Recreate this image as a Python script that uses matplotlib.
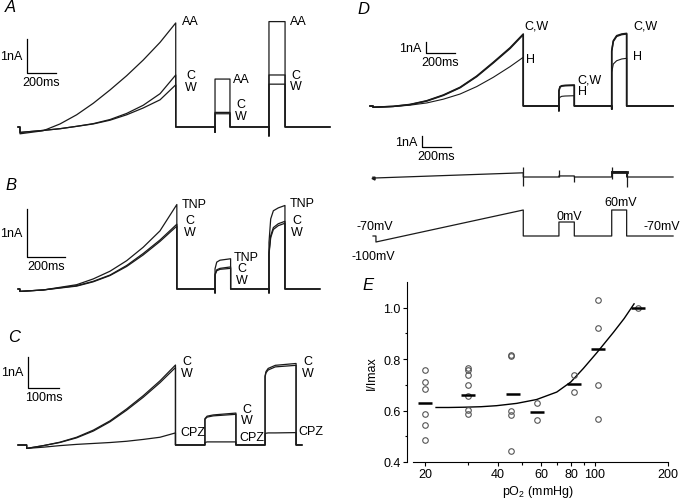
import matplotlib.pyplot as plt
from matplotlib.ticker import FixedLocator, NullFormatter

plt.rcParams['font.family'] = ['Liberation Sans', 'DejaVu Sans']
plt.rcParams['mathtext.fontset'] = 'custom'
plt.rcParams['mathtext.rm'] = 'Liberation Sans'
plt.rcParams['mathtext.it'] = 'Liberation Sans:italic'

# ---- panel A (ms, nA) ----
A_ramp_t = [0, 160, 276, 391, 506, 621, 736, 850, 966, 1074]
A_AA = [-0.20, -0.11, 0.09, 0.36, 0.70, 1.09, 1.51, 1.97, 2.49, 3.06]
A_C = [-0.16, -0.10, -0.05, 0.02, 0.10, 0.22, 0.40, 0.64, 0.98, 1.53]
A_W = [-0.16, -0.10, -0.05, 0.02, 0.09, 0.20, 0.36, 0.56, 0.80, 1.24]
A_steps_t = [[1345, 1448], [1717, 1828]]
A_steps_AA = [[1.41, 1.41], [3.10, 3.10]]
A_steps_C = [[0.43, 0.43], [1.53, 1.53]]
A_steps_W = [[0.39, 0.39], [1.26, 1.26]]
A_dips = [-0.15, -0.26]
A_end = 2138

# ---- panel B ----
B_ramp_t = [10, 133, 309, 396, 484, 572, 659, 747, 836]
B_TNP = [-0.05, -0.02, 0.09, 0.21, 0.37, 0.59, 0.87, 1.21, 1.76]
B_C = [-0.05, -0.02, 0.07, 0.16, 0.29, 0.49, 0.74, 1.02, 1.35]
B_W = [-0.05, -0.02, 0.06, 0.15, 0.28, 0.47, 0.71, 0.99, 1.31]
B_steps_t = [[1037, 1046, 1063, 1119], [1321, 1330, 1344, 1370, 1405]]
B_steps_TNP = [[0.42, 0.56, 0.60, 0.63], [0.97, 1.46, 1.63, 1.69, 1.74]]
B_steps_C = [[0.31, 0.40, 0.43, 0.46], [0.76, 1.11, 1.28, 1.36, 1.41]]
B_steps_W = [[0.29, 0.38, 0.41, 0.43], [0.72, 1.07, 1.24, 1.32, 1.37]]
B_dips = [-0.08, -0.08]
B_end = 1589

# ---- panel C ----
C_ramp_t = [28, 82, 135, 189, 243, 297, 350, 404, 458, 508]
C_C = [-0.11, -0.02, 0.09, 0.25, 0.48, 0.78, 1.16, 1.59, 2.07, 2.58]
C_W = [-0.11, -0.02, 0.08, 0.23, 0.45, 0.75, 1.12, 1.54, 2.01, 2.50]
C_CPZ = [-0.11, -0.07, -0.02, 0.02, 0.05, 0.08, 0.12, 0.18, 0.25, 0.39]
C_steps_t = [[603, 610, 630, 703], [797, 800, 807, 830, 897]]
C_steps_C = [[0.85, 0.93, 0.97, 1.03], [2.23, 2.37, 2.47, 2.57, 2.63]]
C_steps_W = [[0.83, 0.90, 0.94, 0.99], [2.20, 2.33, 2.42, 2.52, 2.57]]
C_steps_CPZ = [[0.08, 0.10, 0.10, 0.10], [0.36, 0.38, 0.39, 0.39, 0.40]]
C_end = 916

# ---- panel D ----
D_ramp_t = [21, 161, 276, 391, 506, 621, 736, 850, 966, 1057]
D_C = [-0.12, -0.03, 0.15, 0.50, 1.05, 1.78, 2.85, 4.16, 5.55, 6.86]
D_W = [-0.12, -0.04, 0.13, 0.47, 1.01, 1.74, 2.80, 4.10, 5.48, 6.80]
D_H = [-0.12, -0.05, 0.08, 0.29, 0.65, 1.14, 1.85, 2.73, 3.75, 4.64]
D_steps_t = [[1303, 1310, 1322, 1345, 1409], [1667, 1678, 1701, 1736, 1770]]
D_steps_C = [[1.46, 1.84, 1.93, 1.97, 2.00], [5.27, 6.22, 6.70, 6.86, 6.92]]
D_steps_W = [[1.42, 1.80, 1.89, 1.93, 1.96], [5.20, 6.15, 6.63, 6.80, 6.86]]
D_steps_H = [[0.67, 0.83, 0.92, 0.95, 0.98], [3.21, 4.00, 4.31, 4.48, 4.54]]
D_dips = [-0.45, -0.30]
D_end = 2090

# leak current (middle trace of D)
L_ramp_t = [21, 1057]
L_ramp = [-0.10, 0.40]
L_steps_t = [[1303, 1409], [1667, 1770]]
L_steps = [[0.10, 0.10], [0.50, 0.50]]
L_spike_t = [1057, 1303, 1409, 1667, 1770]
L_spike_lo = [-0.86, 0.0, -0.48, -0.19, -0.95]
L_spike_hi = [0.95, 0.67, 0.10, 0.95, 0.50]

# voltage protocol (mV)
V_ramp_t = [41, 1057]
V_ramp = [-100, 60]
V_steps_t = [[1303, 1409], [1667, 1770]]
V_steps = [[0, 0], [60, 60]]
V_hold = -70

# ---- panel E ----
E_x = [20] * 6 + [30] * 7 + [45] * 5 + [58] * 2 + [82] * 2 + [103] * 4 + [150]
E_y = [0.759, 0.713, 0.684, 0.586, 0.545, 0.486,
       0.766, 0.757, 0.737, 0.700, 0.657, 0.601, 0.588,
       0.816, 0.811, 0.597, 0.584, 0.443,
       0.628, 0.564,
       0.739, 0.671,
       1.029, 0.920, 0.700, 0.566,
       1.000]
E_mean_x = [20, 30, 46, 58, 82, 103, 150]
E_mean_y = [0.628, 0.659, 0.664, 0.595, 0.705, 0.838, 1.000]
E_fit_x = [22.2, 25, 28.8, 34, 39.4, 47.7, 57.6, 69.7, 79.6, 89.7, 101.9, 119.2, 132, 145]
E_fit_y = [0.612, 0.612, 0.613, 0.615, 0.619, 0.628, 0.643, 0.672, 0.711, 0.764, 0.825, 0.904, 0.958, 1.015]

W, H = 682, 502
fig = plt.figure(figsize=(W / 100, H / 100), dpi=100)


def trace_ax(box, x0, y0, ppx, ppy):
    l, t, r, b = box
    ax = fig.add_axes([l / W, 1 - b / H, (r - l) / W, (b - t) / H])
    ax.set_xlim((l - x0) / ppx, (r - x0) / ppx)
    ax.set_ylim((y0 - b) / ppy, (y0 - t) / ppy)
    ax.axis('off')
    return ax


def build(ramp_t, ramp_y, steps_t, steps_y, t_end, base=0.0, dips=None, pre=15):
    t = [ramp_t[0] - pre, ramp_t[0]] + list(ramp_t)
    y = [base, base] + list(ramp_y)
    t += [ramp_t[-1]]
    y += [base]
    for i in range(len(steps_t)):
        st, sy = steps_t[i], steps_y[i]
        t += [st[0]]
        y += [base]
        if dips:
            t += [st[0]]
            y += [dips[i]]
        t += list(st)
        y += list(sy)
        t += [st[-1]]
        y += [base]
    t += [t_end]
    y += [base]
    return t, y


def scalebar(ax, t, y, dt, dy, tl, yl):
    ax.plot([t, t, t + dt], [y + dy, y, y], color='k', lw=0.9)
    ax.annotate(yl, (t, y + dy / 2), xytext=(-3, 0), textcoords='offset points',
                ha='right', va='center', fontsize=9)
    ax.annotate(tl, (t + dt / 2, y), xytext=(0, -2.5), textcoords='offset points',
                ha='center', va='top', fontsize=9)


def labels(ax, items):
    for t, y, s in items:
        ax.text(t, y, s, ha='left', va='center', fontsize=9)


lw = 0.9

# A
axA = trace_ax((0, 0, 335, 160), 20, 128, 0.145, 34)
for ry, sy in [(A_AA, A_steps_AA), (A_C, A_steps_C), (A_W, A_steps_W)]:
    t, y = build(A_ramp_t, ry, A_steps_t, sy, A_end, dips=A_dips, pre=14)
    axA.plot(t, y, color='#1a1a1a', lw=lw)
scalebar(axA, 48, 1.59, 200, 1, '200ms', '1nA')
labels(axA, [(1117, 3.12, 'AA'), (1145, 1.53, 'C'), (1138, 1.18, 'W'),
             (1469, 1.41, 'AA'), (1490, 0.68, 'C'), (1483, 0.32, 'W'),
             (1862, 3.12, 'AA'), (1869, 1.53, 'C'), (1862, 1.20, 'W')])

# B
axB = trace_ax((0, 160, 335, 320), 18, 290, 0.19, 48)
for ry, sy in [(B_TNP, B_steps_TNP), (B_C, B_steps_C), (B_W, B_steps_W)]:
    t, y = build(B_ramp_t, ry, B_steps_t, sy, B_end, dips=B_dips, pre=10)
    axB.plot(t, y, color='#1a1a1a', lw=lw)
scalebar(axB, 47, 0.67, 200, 1, '200ms', '1nA')
labels(axB, [(863, 1.77, 'TNP'), (879, 1.44, 'C'), (874, 1.19, 'W'),
             (1137, 0.66, 'TNP'), (1153, 0.43, 'C'), (1148, 0.19, 'W'),
             (1432, 1.79, 'TNP'), (1442, 1.44, 'C'), (1437, 1.19, 'W')])

# C
axC = trace_ax((0, 320, 335, 480), 18, 446, 0.31, 31)
for ry, sy in [(C_C, C_steps_C), (C_W, C_steps_W), (C_CPZ, C_steps_CPZ)]:
    t, y = build(C_ramp_t, ry, C_steps_t, sy, C_end, pre=28)
    axC.plot(t, y, color='#1a1a1a', lw=lw)
scalebar(axC, 32, 1.84, 100, 1, '100ms', '1nA')
labels(axC, [(529, 2.71, 'C'), (526, 2.32, 'W'), (523, 0.42, 'CPZ'),
             (723, 1.16, 'C'), (720, 0.81, 'W'), (713, 0.26, 'CPZ'),
             (919, 2.71, 'C'), (916, 2.32, 'W'), (903, 0.45, 'CPZ')])

# D currents
axD = trace_ax((340, 0, 682, 125), 370, 107, 0.145, 10.5)
for ry, sy, w in [(D_C, D_steps_C, 1.1), (D_W, D_steps_W, 1.1), (D_H, D_steps_H, 0.8)]:
    t, y = build(D_ramp_t, ry, D_steps_t, sy, D_end, dips=D_dips, pre=21)
    axD.plot(t, y, color='#1a1a1a', lw=w)
scalebar(axD, 386, 5.05, 200, 1, '200ms', '1nA')
labels(axD, [(1062, 7.62, 'C,W'), (1076, 4.48, 'H'),
             (1428, 2.57, 'C,W'), (1434, 1.43, 'H'),
             (1814, 7.62, 'C,W'), (1814, 4.76, 'H')])

# D leak
axL = trace_ax((340, 125, 682, 195), 370, 178, 0.145, 10.5)
t, y = build(L_ramp_t, L_ramp, L_steps_t, L_steps, D_end, pre=0)
axL.plot(t, y, color='#1a1a1a', lw=lw)
axL.plot(L_steps_t[1], L_steps[1], color='#1a1a1a', lw=2.0)
axL.vlines(L_spike_t, L_spike_lo, L_spike_hi, color='#1a1a1a', lw=lw)
axL.plot([L_ramp_t[0]], [L_ramp[0]], marker='<', ms=2.2, color='#1a1a1a')
scalebar(axL, 359, 2.86, 200, 1, '200ms', '1nA')

# D voltage
axV = trace_ax((340, 190, 682, 265), 370, 223, 0.145, 0.2)
t, y = build(V_ramp_t, V_ramp, V_steps_t, V_steps, D_end, base=V_hold, pre=20)
axV.plot(t, y, color='#1a1a1a', lw=lw)
for tt, yy, s in [(34, -20, '-70mV'), (21, -170, '-100mV'), (1372, 30, '0mV'),
                  (1731, 100, '60mV'), (2014, -20, '-70mV')]:
    axV.text(tt, yy, s, ha='center', va='center', fontsize=9)

# E
axE = fig.add_axes([407 / W, 1 - 463 / H, 261 / W, 180 / H])
axE.set_xscale('log')
axE.set_xlim(16.86, 200)
axE.set_ylim(0.4, 1.1)
axE.plot(E_fit_x, E_fit_y, color='k', lw=1.0)
axE.plot(E_x, E_y, 'o', mfc='none', mec='#555555', ms=4, mew=0.8)
axE.plot(E_mean_x, E_mean_y, '_', color='k', ms=10, mew=1.8)
for s in ['top', 'right']:
    axE.spines[s].set_visible(False)
axE.spines['bottom'].set_bounds(17.8, 200)
axE.spines['left'].set_bounds(0.4, 1.1)
axE.xaxis.set_major_locator(FixedLocator([20, 40, 60, 80, 100, 200]))
axE.xaxis.set_minor_locator(FixedLocator([30, 50, 70, 90]))
axE.xaxis.set_minor_formatter(NullFormatter())
axE.set_xticklabels(['20', '40', '60', '80', '100', '200'])
axE.set_yticks([0.4, 0.6, 0.8, 1.0])
axE.set_yticklabels(['0.4', '0.6', '0.8', '1.0'])
axE.yaxis.set_minor_locator(FixedLocator([0.5, 0.7, 0.9]))
axE.tick_params(which='major', direction='out', length=3, width=0.8, labelsize=9, pad=1.5)
axE.tick_params(which='minor', direction='out', length=1.8, width=0.8)
axE.set_xlabel('pO$_2$ (mmHg)', fontsize=9, labelpad=2)
axE.set_ylabel('I/Imax', fontsize=9, labelpad=4)

# panel letters
for x, y, s in [(5, 8, 'A'), (5, 185, 'B'), (8, 338, 'C'), (357, 9, 'D'), (362, 285, 'E')]:
    fig.text(x / W, 1 - y / H, s, style='italic', fontsize=12, ha='left', va='center')

fig.savefig('out.png', dpi=100)
